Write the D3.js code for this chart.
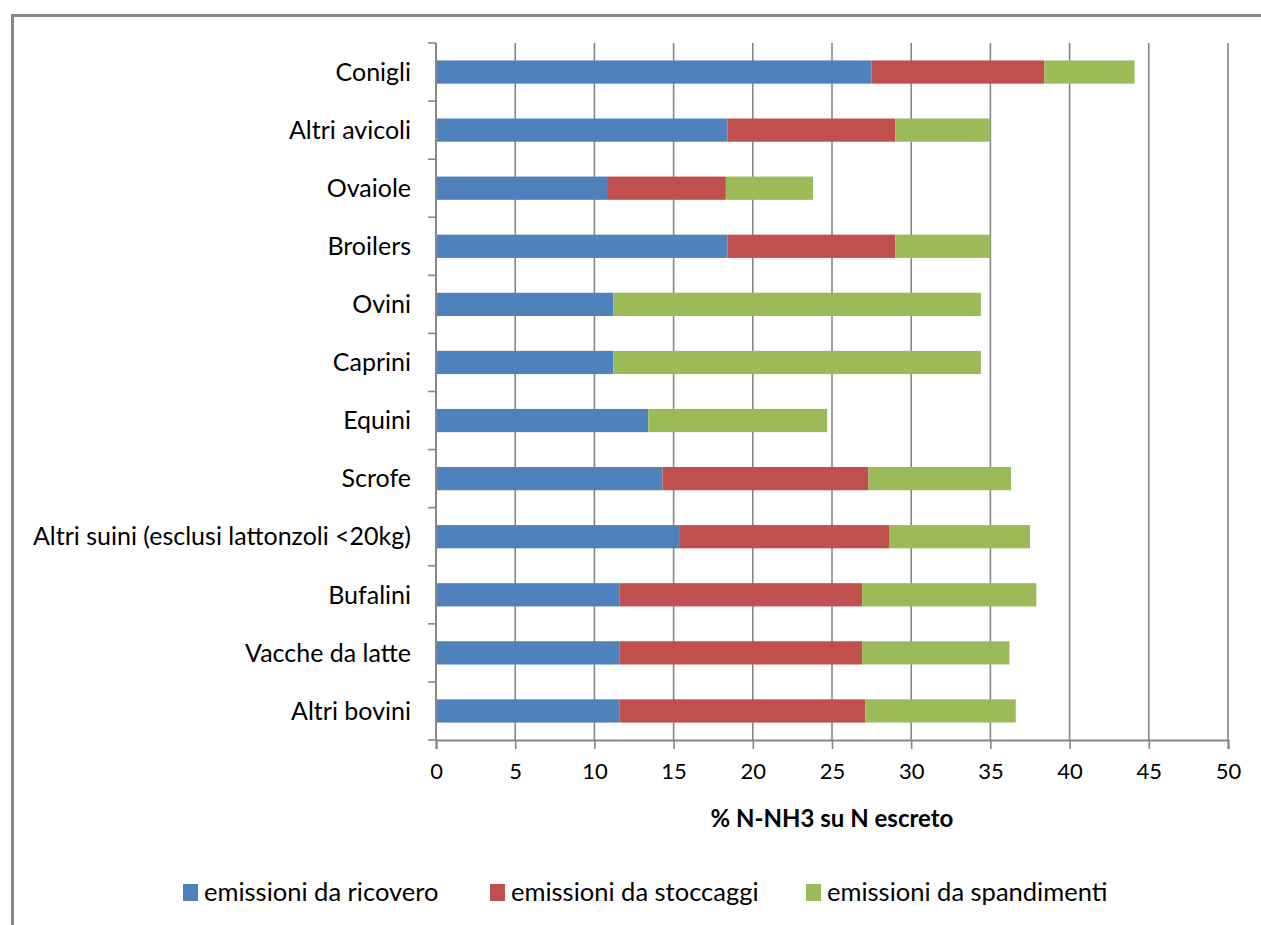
<!DOCTYPE html>
<html>
<head>
<meta charset="utf-8">
<script src="https://cdn.jsdelivr.net/npm/d3@7"></script>
<style>
  html, body { margin: 0; padding: 0; background: #fff; }
  svg { display: block; }
  text { font-family: "Lato", "Open Sans", sans-serif; fill: #000; }
</style>
</head>
<body>
<svg id="chart" width="1261" height="925"></svg>
<script>
const categories = ["Conigli", "Altri avicoli", "Ovaiole", "Broilers", "Ovini", "Caprini", "Equini", "Scrofe", "Altri suini (esclusi lattonzoli <20kg)", "Bufalini", "Vacche da latte", "Altri bovini"];
const ricovero = [27.5, 18.4, 10.8, 18.4, 11.2, 11.2, 13.4, 14.3, 15.4, 11.6, 11.6, 11.6];
const stoccaggi = [10.9, 10.6, 7.5, 10.6, 0, 0, 0, 13.0, 13.2, 15.3, 15.3, 15.5];
const spandimenti = [5.7, 6.0, 5.5, 6.0, 23.2, 23.2, 11.3, 9.0, 8.9, 11.0, 9.3, 9.5];
const seriesNames = ["emissioni da ricovero", "emissioni da stoccaggi", "emissioni da spandimenti"];
const seriesColors = ["#4F81BD", "#C0504D", "#9BBB59"];
const xTicks = [0, 5, 10, 15, 20, 25, 30, 35, 40, 45, 50];
const xTitle = "% N-NH3 su N escreto";

(function () {
const svg = d3.select("#chart");
const gray = "#878787";

// outer frame (left and top edges visible)
svg.append("path").attr("d", "M12.5,925 L12.5,15.5 L1261,15.5")
  .attr("fill", "none").attr("stroke", gray).attr("stroke-width", 3);

const pL = 436, pR = 1228, pT = 43, pB = 740;
const x = d3.scaleLinear().domain([0, 50]).range([pL, pR]);
const y = d3.scaleBand().domain(categories).range([pT, pB]).paddingInner(0.6).paddingOuter(0.3);

const rows = categories.map((c, i) => ({ cat: c, v0: ricovero[i], v1: stoccaggi[i], v2: spandimenti[i] }));
const stack = d3.stack().keys(["v0", "v1", "v2"])(rows);

// gridlines
svg.append("g").selectAll("line").data(xTicks.filter(t => t > 0)).join("line")
  .attr("x1", d => x(d)).attr("x2", d => x(d))
  .attr("y1", pT).attr("y2", pB)
  .attr("stroke", gray).attr("stroke-width", 1.6);

// bars
svg.append("g").selectAll("g").data(stack).join("g")
  .attr("fill", (d, i) => seriesColors[i])
  .selectAll("rect").data(d => d).join("rect")
  .attr("x", d => x(d[0]))
  .attr("y", d => y(d.data.cat))
  .attr("width", d => Math.max(0, x(d[1]) - x(d[0])))
  .attr("height", y.bandwidth());

// y axis
const yAxisG = svg.append("g");
yAxisG.append("line").attr("x1", pL).attr("x2", pL).attr("y1", pT).attr("y2", pB)
  .attr("stroke", gray).attr("stroke-width", 2);
const n = categories.length;
yAxisG.selectAll("line.tk").data(d3.range(n + 1)).join("line")
  .attr("class", "tk")
  .attr("x1", pL - 8).attr("x2", pL)
  .attr("y1", i => pT + i * (pB - pT) / n)
  .attr("y2", i => pT + i * (pB - pT) / n)
  .attr("stroke", gray).attr("stroke-width", 1.6);
yAxisG.selectAll("text").data(categories).join("text")
  .attr("x", 411).attr("y", d => y(d) + y.bandwidth() / 2)
  .attr("dy", "0.35em").attr("text-anchor", "end")
  .attr("font-size", 25).text(d => d);

// x axis
const xAxisG = svg.append("g").attr("transform", `translate(0,${pB})`);
const xAxis = d3.axisBottom(x).tickValues(xTicks).tickSize(9).tickPadding(14).tickFormat(d3.format("d"));
xAxisG.call(xAxis);
xAxisG.select(".domain").attr("stroke", gray).attr("stroke-width", 2);
xAxisG.selectAll(".tick line").attr("stroke", gray).attr("stroke-width", 1.6);
xAxisG.selectAll(".tick text").attr("font-size", 22).attr("font-family", "Lato, sans-serif").attr("fill", "#000");

svg.append("text").attr("x", (pL + pR) / 2).attr("y", 827)
  .attr("text-anchor", "middle").attr("font-size", 24).attr("font-weight", "bold")
  .text(xTitle);

// legend
const legendX = [183, 490, 806];
const lg = svg.append("g");
seriesNames.forEach((s, i) => {
  lg.append("rect").attr("x", legendX[i]).attr("y", 884).attr("width", 15).attr("height", 17).attr("fill", seriesColors[i]);
  lg.append("text").attr("x", legendX[i] + 21).attr("y", 892.5).attr("dy", "0.35em")
    .attr("font-size", 25.5).text(s);
});
})();
</script>
</body>
</html>
